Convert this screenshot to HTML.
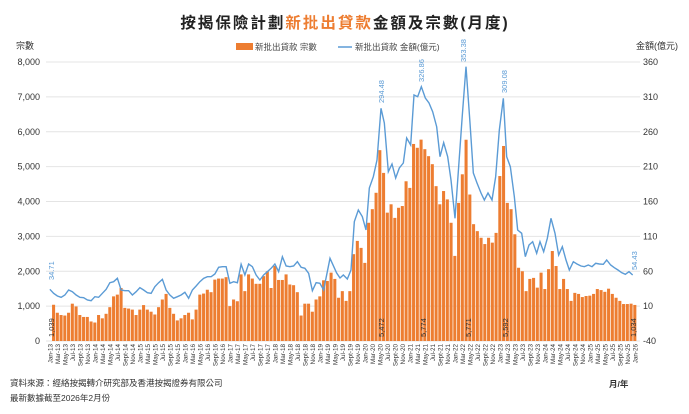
<!DOCTYPE html>
<html><head><meta charset="utf-8"><style>
body{margin:0;background:#fff;width:689px;height:414px;overflow:hidden}
svg{display:block;font-family:"Liberation Sans","Noto Sans CJK TC",sans-serif}
</style></head><body>
<svg id="c" width="689" height="414" xmlns="http://www.w3.org/2000/svg">
<text x="345" y="28" text-anchor="middle" font-size="15.5" font-weight="bold" fill="#222" letter-spacing="2">按揭保險計劃<tspan fill="#ed7d31">新批出貸款</tspan>金額及宗數(月度)</text>
<rect x="236" y="43" width="17" height="7" fill="#ed7d31"/>
<text x="255" y="50" font-size="8.5" fill="#444">新批出貸款 宗數</text>
<line x1="338" y1="47" x2="352" y2="47" stroke="#5b9bd5" stroke-width="1.5"/>
<text x="355" y="50" font-size="8.5" fill="#444">新批出貸款 金額(億元)</text>
<text x="16" y="49" font-size="9" fill="#333">宗數</text>
<text x="636" y="49" font-size="9" fill="#333">金額(億元)</text>
<text x="10" y="386" font-size="8.5" fill="#333">資料來源：經絡按揭轉介研究部及香港按揭證券有限公司</text>
<text x="10" y="401" font-size="8.5" fill="#333">最新數據截至2026年2月份</text>
<text x="609" y="387" font-size="8.5" font-weight="bold" fill="#333">月/年</text>
<g id="g"></g>
</svg>
<script>
var g=document.getElementById('g'),s='';
var X0=48,BW=3.75,Y0=341,K=0.034875;
for(var k=0;k<=8;k++){var y=Y0-k*1000*K;
s+='<line x1="46" x2="640" y1="'+y+'" y2="'+y+'" stroke="#e4e4e4" stroke-width="1"/>';
s+='<text x="40" y="'+(y+3)+'" text-anchor="end" font-size="9" fill="#333">'+(k?(k+',000'):'0')+'</text>';
s+='<text x="643" y="'+(y+3)+'" font-size="9" fill="#333">'+(k*50-40)+'</text>';}
var a=[1039,810,745,730,810,1070,990,745,690,690,560,530,745,650,780,970,1280,1330,1520,950,930,900,745,900,1030,900,840,760,970,1190,1350,950,780,590,650,745,810,620,900,1330,1360,1470,1400,1760,1790,1790,1830,1000,1190,1140,1910,1430,1910,1790,1640,1640,1860,2000,1520,2150,1750,1750,1910,1620,1600,1400,730,1070,1070,840,1190,1280,1740,1720,
1960,1780,1240,1430,1150,1430,2490,2870,2670,2240,3390,3780,4250,5472,4820,3680,3920,3530,3820,3870,4580,4390,5650,5540,5774,5500,5300,5070,4440,3920,4300,4060,3390,2440,3960,4780,5771,4200,3350,3150,2960,2780,2960,2820,3100,4730,5592,3960,3780,3060,2100,2000,1430,1780,1810,1530,1960,1490,2060,2580,2150,1490,1780,1490,1150,1380,1350,1260,1290,1300,1350,1490,1460,1410,1500,1350,1240,1150,1060,1060,1070,1034];
var off=157-a.length;
for(var i=0;i<a.length;i++){var j=i+off,x=X0+BW*j,h=a[i]*K;
s+='<rect x="'+(x+0.3).toFixed(2)+'" y="'+(Y0-h).toFixed(2)+'" width="'+(BW-0.7)+'" height="'+h.toFixed(2)+'" fill="#ed7d31"/>';}
var mons=['Jan','Mar','May','Jul','Sept','Nov'];
for(var j=0;j<157;j+=2){var yr=13+Math.floor(j/12),m=mons[(j%12)/2];var cx=X0+BW*j+BW/2+2.5;
s+='<text transform="translate('+cx.toFixed(2)+',344) rotate(-90)" text-anchor="end" font-size="6.3" fill="#333">'+m+'-'+yr+'</text>';}
var L1=[289.3,293.3,296,297.3,295,290,291.7,295,297.3,297.7,300,300.7,296.7,297.3,293.3,289.3,282.7,281.7,278.3,290,290.7,290.7,295,291.7,287.7,290,292.7,293.3,286.7,282.7,279.3,290,295,298.3,296.7,295,292.3,298.3,290,286,281.7,278.3,276.7,276.7,274,267.3,266.7,266.7,283.3,281.7,282.7,264.3,275,264,266.7,275,280,275,271.7,268.3,264,271.7,256.7,266,266.7,266,261.7,267.3,268.3,273.3,290.7,282.7,283.3,290];
var pts=[];for(var i=0;i<L1.length;i++)pts.push((X0+BW*i+BW/2).toFixed(2)+','+L1[i]);
var L2=[[0,258.3],[20,273],[30,278],[40,275],[52,279],[63,270],[73,221.7],[85,210],[97,216.7],[108,230],[118,188],[130,176.7],[141,160],[153,108.3],[163,123],[175,171.7],[186,164],[197,178],[208,168],[220,163],[230,138],[242,145],[252,95],[263,96.7],[274,86.7],[286,98],[297,103],[308,111.7],[320,126.7],[330,156.7],[341,142.7],[353,156.7],[363,180],[375,218.3],[386,166.7],[397,115],[408,66.7],[420,123],[430,173],[441,183],[453,193],[463,200],[474,193],[486,200],[497,176.7],[508,130],[520,98.3],[530,156.7],[541,166.7],[553,196.7],[563,230],[575,233.3],[586,256.7],[597,245],[608,241.7],[620,253.3],[630,241.7],[641,251.7],[652,238.3],[663,218.3],[675,233.3],[686,255],[697,246.7],[708,260],[718,270],[730,261.7],[741,264],[753,266],[763,266.7],[775,265],[786,266.7],[797,263.3],[808,264],[820,264.3],[830,260],[842,265],[853,267.7],[864,270],[875,272.7],[886,274.3],[897,271.7],[908,275]];
for(var i=0;i<L2.length;i++)pts.push((330+L2[i][0]/3).toFixed(2)+','+L2[i][1]);
s+='<polyline points="'+pts.join(' ')+'" fill="none" stroke="#5b9bd5" stroke-width="1.4"/>';
function rl(x,y,t,c){return '<text transform="translate('+x+','+y+') rotate(-90)" font-size="7.5" fill="'+c+'">'+t+'</text>';}
s+=rl(54,280,'34.71','#5b9bd5')+rl(384,103,'294.48','#5b9bd5')+rl(424,82,'326.86','#5b9bd5')+rl(466,62,'353.38','#5b9bd5')+rl(507,93,'309.08','#5b9bd5')+rl(637,270,'54.43','#5b9bd5');
s+=rl(54,337,'1,039','#333')+rl(384,337,'5,472','#333')+rl(426,337,'5,774','#333')+rl(471,337,'5,771','#333')+rl(508,337,'5,592','#333')+rl(636,337,'1,034','#333');
g.innerHTML=s;
</script>
</body></html>
